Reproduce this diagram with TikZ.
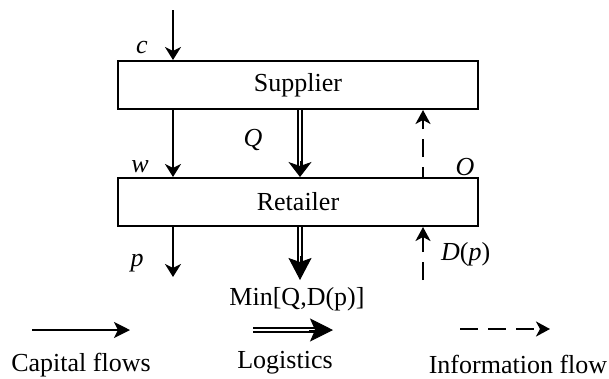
\documentclass[tikz,border=0pt]{standalone}
\usepackage{fontspec}
\setmainfont{Liberation Serif}
\usetikzlibrary{arrows.meta}
\begin{document}
\begin{tikzpicture}[x=1pt,y=-1pt,
  every node/.style={font=\fontsize{26}{31}\selectfont},
  flowbox/.style={draw,line width=2pt,minimum width=360pt,minimum height=48pt,inner sep=0pt},
  lbl/.style={inner sep=0pt},
  capital/.style={line width=2.2pt,-{Stealth[length=13pt,width=16pt,inset=4pt]}},
  dblline/.style={double,line width=1.7pt,double distance=2.5pt},
  bigtip/.style={line width=1pt,-{Stealth[length=#1,width=23pt,inset=4pt]}},
  bigtip/.default=16pt,
  info/.style={line width=2.2pt,dash pattern=on 18pt off 10pt,-{Stealth[length=14pt,width=15pt,inset=4pt]}}
]
\useasboundingbox (0,0) rectangle (609,378);
\node[flowbox] (sup) at (298,85) {Supplier};
\node[flowbox] (ret) at (298,202) {Retailer};
% coordinates for free ends
\coordinate (cT) at (173,10);
\coordinate (pB) at (173,277);
\coordinate (mB) at (300,280);
\coordinate (dB) at (423,280);
\coordinate (qx) at (300,0);
\coordinate (dx) at (423,0);
% capital flows
\draw[capital] (cT) -- (cT |- sup.north);
\draw[capital] (cT |- sup.south) -- (cT |- ret.north);
\draw[capital] (cT |- ret.south) -- (pB);
% logistics
\coordinate (qT) at (qx |- sup.south);
\coordinate (qB) at (qx |- ret.north);
\coordinate (rB) at (qx |- ret.south);
\draw[dblline,shorten >=8pt] (qT) -- (qB);
\draw[bigtip=15pt] ([yshift=16pt]qB) -- (qB);
\draw[dblline,shorten >=12pt] (rB) -- (mB);
\draw[bigtip=22pt] ([yshift=24pt]mB) -- (mB);
% information
\draw[info,dash phase=8pt] (dx |- ret.north) -- (dx |- sup.south);
\draw[info] (dB) -- (dx |- ret.south);
% labels
\node[lbl] (lc) at (142,47) {\textit{c}};
\node[lbl] (lw) at (140,167) {\textit{w}};
\node[lbl] (lq) at (253,140) {\textit{Q}};
\node[lbl] (lo) at (465,167) {\textit{O}};
\node[lbl] (lp) at (137,263) {\textit{p}};
\node[lbl,anchor=west] (ld) at (441,254) {\textit{D}(\textit{p})};
\node[lbl] (lmin) at (297,299) {Min[Q,D(p)]};
% legend
\coordinate (a1) at (32,330);
\coordinate (a2) at (130,330);
\draw[capital,-{Stealth[length=16pt,width=16pt,inset=4pt]}] (a1) -- (a2);
\coordinate (b1) at (253,330);
\coordinate (b2) at (333,330);
\draw[dblline,shorten >=12pt] (b1) -- (b2);
\draw[line width=1pt,-{Stealth[length=23pt,width=23pt,inset=5pt]}] ([xshift=-24pt]b2) -- (b2);
\coordinate (i1) at (460,329);
\coordinate (i2) at (550,329);
\draw[info] (i1) -- (i2);
\node[lbl] (t1) at (81,365) {Capital flows};
\node[lbl] (t2) at (285,363) {Logistics};
\node[lbl] (t3) at (518,364) {Information flow};
\end{tikzpicture}
\end{document}
